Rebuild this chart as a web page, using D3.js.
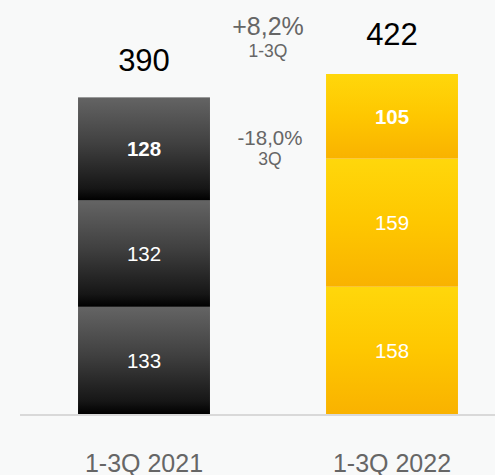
<!DOCTYPE html>
<html>
<head>
<meta charset="utf-8">
<script src="https://cdn.jsdelivr.net/npm/d3@7"></script>
<style>
  html, body { margin: 0; padding: 0; background: #f8f9f9; }
  svg { display: block; font-family: "Liberation Sans", Arial, sans-serif; }
</style>
</head>
<body>
<svg id="chart" width="495" height="475"></svg>
<script>
// Periods and their stacked quarterly values (Q1, Q2, Q3 from bottom up)
const periods = ["1-3Q 2021", "1-3Q 2022"];
const quarters = ["Q1", "Q2", "Q3"];
const values2021 = [133, 132, 128];
const values2022 = [158, 159, 105];
const totals = [390, 422];
// Change annotations shown between the bars
const changeLabels = [
  { value: "+8,2%", period: "1-3Q" },
  { value: "-18,0%", period: "3Q" }
];

const W = 495, H = 475;
const svg = d3.select("#chart");

const x = d3.scaleBand().domain(periods).range([20, 516])
  .paddingInner(0.468).paddingOuter(0.234);
const y = d3.scaleLinear().domain([0, 422]).range([414, 74]);

// Gradients for the two series
const defs = svg.append("defs");
const dark = defs.append("linearGradient").attr("id", "gDark")
  .attr("x1", 0).attr("y1", 0).attr("x2", 0).attr("y2", 1);
[[0, "#646464"], [0.45, "#404040"], [0.88, "#161616"], [1, "#000000"]]
  .forEach(([o, c]) => dark.append("stop").attr("offset", o).attr("stop-color", c));
const gold = defs.append("linearGradient").attr("id", "gGold")
  .attr("x1", 0).attr("y1", 0).attr("x2", 0).attr("y2", 1);
[[0, "#ffd70b"], [0.5, "#fec700"], [1, "#f9b200"]]
  .forEach(([o, c]) => gold.append("stop").attr("offset", o).attr("stop-color", c));

const seriesByPeriod = [values2021, values2022];
const fills = ["url(#gDark)", "url(#gGold)"];

const rows = [];
periods.forEach((p, i) => {
  let acc = 0;
  seriesByPeriod[i].forEach((v, j) => {
    rows.push({ period: p, idx: i, q: quarters[j], v, y0: acc, y1: acc + v, top: j === 2 });
    acc += v;
  });
});

// Stacked segments
svg.append("g").selectAll("rect").data(rows).join("rect")
  .attr("x", d => x(d.period))
  .attr("width", x.bandwidth())
  .attr("y", d => y(d.y1))
  .attr("height", d => y(d.y0) - y(d.y1))
  .attr("fill", d => fills[d.idx]);

// Segment value labels
svg.append("g").selectAll("text").data(rows).join("text")
  .attr("x", d => x(d.period) + x.bandwidth() / 2)
  .attr("y", d => (y(d.y0) + y(d.y1)) / 2 + 7.5)
  .attr("text-anchor", "middle")
  .attr("fill", "#ffffff")
  .attr("font-size", 20.5)
  .attr("font-weight", d => d.top ? "bold" : "normal")
  .text(d => d.v);

// Baseline
svg.append("line")
  .attr("x1", 20).attr("x2", W)
  .attr("y1", 415).attr("y2", 415)
  .attr("stroke", "#d9d9d9").attr("stroke-width", 2);

// Totals above bars
svg.append("g").selectAll("text").data(periods).join("text")
  .attr("x", d => x(d) + x.bandwidth() / 2)
  .attr("y", (d, i) => y(totals[i]) - 29)
  .attr("text-anchor", "middle")
  .attr("fill", "#000000")
  .attr("font-size", 31)
  .text((d, i) => totals[i]);

// Category labels
svg.append("g").selectAll("text").data(periods).join("text")
  .attr("x", d => x(d) + x.bandwidth() / 2)
  .attr("y", 472)
  .attr("text-anchor", "middle")
  .attr("fill", "#666666")
  .attr("font-size", 25)
  .text(d => d);

// Change annotations between the bars
const midX = (x(periods[0]) + x.bandwidth() + x(periods[1])) / 2;
const ann = [
  { big: changeLabels[0].value, small: changeLabels[0].period, yb: 35, ys: 57, fb: 25, dx: 0 },
  { big: changeLabels[1].value, small: changeLabels[1].period, yb: 145, ys: 165, fb: 20.5, dx: 2 }
];
const ag = svg.append("g").attr("fill", "#666666").attr("text-anchor", "middle");
ann.forEach(a => {
  ag.append("text").attr("x", midX + a.dx).attr("y", a.yb).attr("font-size", a.fb).text(a.big);
  ag.append("text").attr("x", midX + a.dx).attr("y", a.ys).attr("font-size", 17.5).text(a.small);
});
</script>
</body>
</html>
